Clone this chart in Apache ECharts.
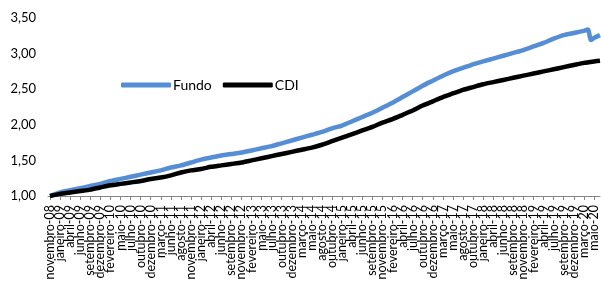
<!DOCTYPE html>
<html>
<head>
<meta charset="utf-8">
<script src="https://cdn.jsdelivr.net/npm/echarts@6/dist/echarts.min.js"></script>
<style>
  html, body { margin: 0; padding: 0; background: #fff; }
  #chart { width: 601px; height: 284px; }
</style>
</head>
<body>
<div id="chart"></div>
<script>
// rótulos do eixo x (um a cada posição inteira)
const tickLabels = [
  'novembro-08', 'janeiro-09', 'abril-09', 'junho-09', 'setembro-09', 'dezembro-09',
  'fevereiro-10', 'maio-10', 'julho-10', 'outubro-10', 'dezembro-10', 'março-11',
  'junho-11', 'agosto-11', 'novembro-11', 'janeiro-12', 'abril-12', 'junho-12',
  'setembro-12', 'novembro-12', 'fevereiro-13', 'maio-13', 'julho-13', 'outubro-13',
  'dezembro-13', 'março-14', 'maio-14', 'agosto-14', 'outubro-14', 'janeiro-15',
  'abril-15', 'junho-15', 'setembro-15', 'novembro-15', 'fevereiro-16', 'abril-16',
  'julho-16', 'outubro-16', 'dezembro-16', 'março-17', 'maio-17', 'agosto-17',
  'outubro-17', 'janeiro-18', 'abril-18', 'junho-18', 'setembro-18', 'novembro-18',
  'fevereiro-19', 'abril-19', 'julho-19', 'setembro-19', 'dezembro-19', 'março-20',
  'maio-20'
]

// Fundo, um valor por rótulo (até março-20)
const fundo = [
  1.00, 1.05, 1.08, 1.11, 1.14, 1.17, 1.21, 1.24, 1.27, 1.30,
  1.33, 1.36, 1.40, 1.43, 1.47, 1.51, 1.54, 1.57, 1.59, 1.61,
  1.64, 1.67, 1.70, 1.74, 1.78, 1.82, 1.86, 1.90, 1.95, 1.99,
  2.05, 2.11, 2.17, 2.24, 2.31, 2.39, 2.47, 2.55, 2.62, 2.69,
  2.75, 2.80, 2.85, 2.89, 2.93, 2.97, 3.01, 3.05, 3.10, 3.15,
  3.21, 3.26, 3.29, 3.32
]
// queda de março/2020 e final da série: [posição, valor]
const fundoTail = [[53.4, 3.34], [53.7, 3.19], [54, 3.22], [54.6, 3.26]]

// CDI, um valor por rótulo
const cdi = [
  1.00, 1.03, 1.05, 1.07, 1.09, 1.12, 1.15, 1.17, 1.19, 1.21,
  1.24, 1.26, 1.29, 1.33, 1.36, 1.38, 1.41, 1.43, 1.45, 1.47,
  1.50, 1.53, 1.56, 1.59, 1.62, 1.65, 1.68, 1.72, 1.77, 1.82,
  1.87, 1.92, 1.97, 2.03, 2.08, 2.14, 2.20, 2.27, 2.33, 2.39,
  2.44, 2.49, 2.53, 2.57, 2.60, 2.63, 2.66, 2.69, 2.72, 2.75,
  2.78, 2.81, 2.84, 2.87, 2.89
]
const cdiTail = [[54.6, 2.90]]

const xMin = -0.2
const xMax = 54.6
const fontFamily = 'Lato, "Noto Sans", sans-serif'
const tickPos = tickLabels.map((_, i) => i)
// as pontas vazias absorvem a regra de sobreposição do primeiro/último rótulo
const labelPos = [xMin].concat(tickPos, [xMax])

const chart = echarts.init(document.getElementById('chart'))
chart.setOption({
  animation: false,
  textStyle: { fontFamily: fontFamily },
  grid: { left: 48, right: 1, top: 18, bottom: 88 },
  legend: {
    left: 116,
    top: 73,
    icon: 'roundRect',
    itemWidth: 50,
    itemHeight: 5,
    itemGap: 11,
    textStyle: { fontSize: 14, color: '#000', fontFamily: fontFamily, padding: [0, 0, 0, -3] },
    data: ['Fundo', 'CDI']
  },
  xAxis: {
    type: 'value',
    min: xMin,
    max: xMax,
    splitLine: { show: false },
    axisLine: { show: true, lineStyle: { color: '#868686', width: 1 } },
    axisTick: { show: true, length: 4, lineStyle: { color: '#868686' }, customValues: tickPos },
    axisLabel: {
      rotate: 90,
      margin: 9,
      fontSize: 12.5,
      lineHeight: 9,
      color: '#000',
      hideOverlap: false,
      showMinLabel: false,
      showMaxLabel: false,
      customValues: labelPos,
      formatter: function (v) {
        return Number.isInteger(v) ? (tickLabels[v] || '') : ''
      }
    }
  },
  yAxis: {
    type: 'value',
    min: 1,
    max: 3.5,
    interval: 0.5,
    splitLine: { show: false },
    axisLine: { show: false },
    axisTick: { show: false },
    axisLabel: {
      margin: 12,
      fontSize: 13,
      color: '#000',
      formatter: function (v) { return v.toFixed(2).replace('.', ',') }
    }
  },
  series: [
    {
      name: 'Fundo',
      type: 'line',
      symbol: 'none',
      smooth: 0.2,
      lineStyle: { color: '#558ed5', width: 4.5 },
      itemStyle: { color: '#558ed5' },
      data: fundo.map((v, i) => [i, v]).concat(fundoTail)
    },
    {
      name: 'CDI',
      type: 'line',
      symbol: 'none',
      smooth: 0.2,
      lineStyle: { color: '#000', width: 4.5 },
      itemStyle: { color: '#000' },
      data: cdi.map((v, i) => [i, v]).concat(cdiTail)
    }
  ]
})
</script>
</body>
</html>
